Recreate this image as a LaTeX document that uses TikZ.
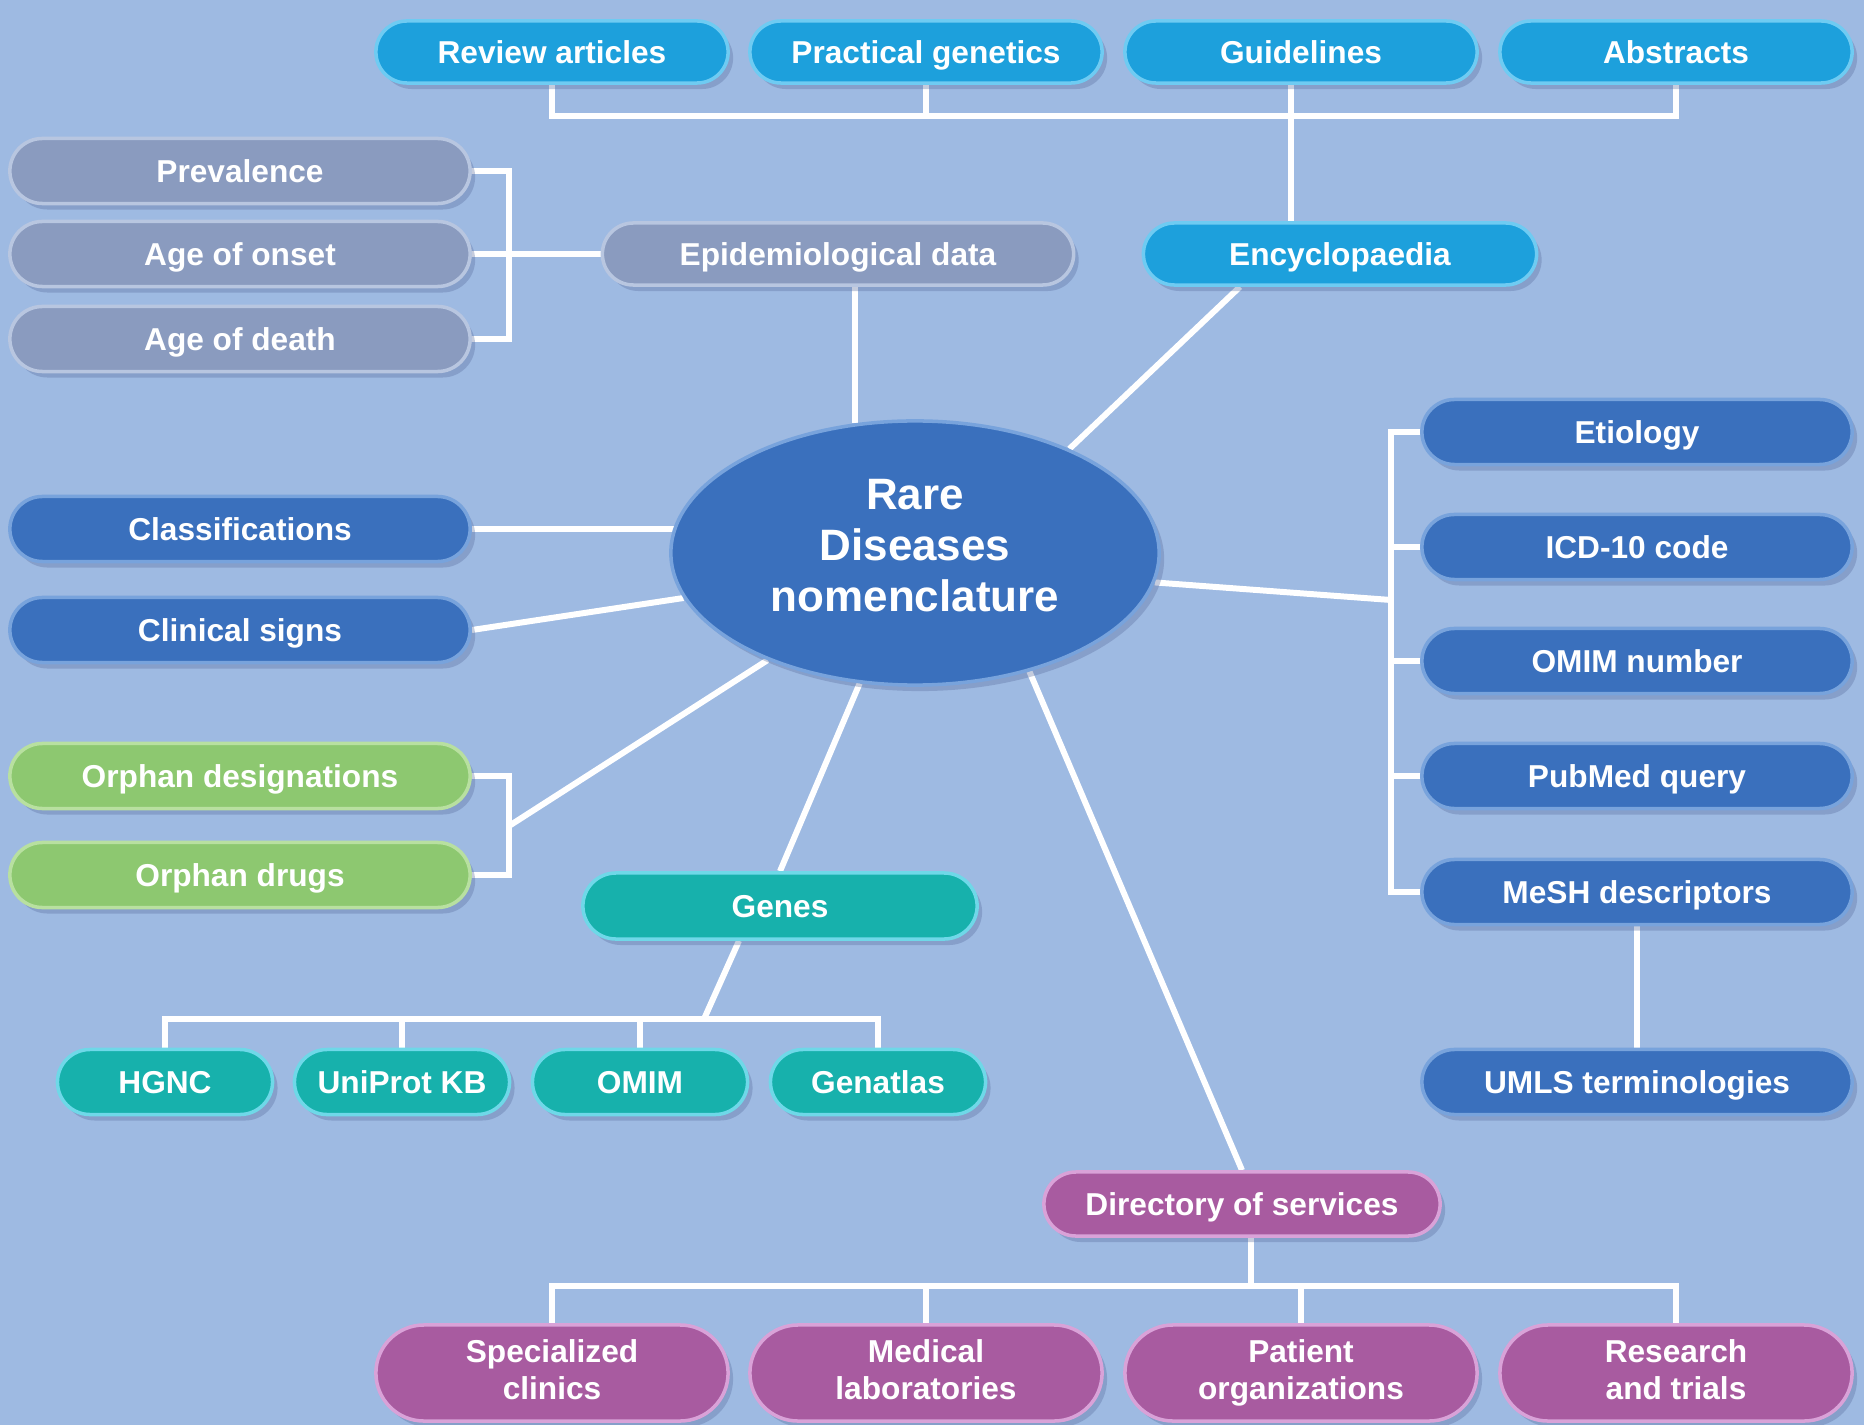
\documentclass[tikz,border=0pt]{standalone}
\usepackage{fontspec}
\setmainfont{Liberation Sans}
\usetikzlibrary{shapes.misc,shapes.geometric,shadows,calc}
\definecolor{bgc}{HTML}{9EBAE2}
\definecolor{cyanc}{HTML}{1DA0DC}
\definecolor{cyanl}{HTML}{6FCBF2}
\definecolor{grayc}{HTML}{8A9BBF}
\definecolor{grayl}{HTML}{B8C6E0}
\definecolor{bluec}{HTML}{3A70BD}
\definecolor{bluel}{HTML}{78A3DC}
\definecolor{greenc}{HTML}{8DC870}
\definecolor{greenl}{HTML}{B8E0A0}
\definecolor{tealc}{HTML}{17B1AC}
\definecolor{teall}{HTML}{6FD8E8}
\definecolor{magc}{HTML}{A85BA0}
\definecolor{magl}{HTML}{D9A2D8}
\definecolor{shadowc}{HTML}{5A6FA0}
\newcommand\mystrut{\rule[-2.2pt]{0pt}{10.8pt}}
\pgfdeclarelayer{bgl}
\pgfdeclarelayer{lines}
\pgfsetlayers{bgl,lines,main}
\tikzset{
  conn/.style={draw=white, line width=1.7pt},
  pill/.style={rounded rectangle, inner sep=0pt, text=white,
    font=\fontsize{9}{10.5}\selectfont\bfseries, align=center, line width=1pt,
    execute at begin node=\mystrut, execute at end node=\mystrut,
    drop shadow={shadow xshift=0.05cm, shadow yshift=-0.06cm, opacity=0.35, fill=shadowc}},
  cyanbox/.style={pill, fill=cyanc, draw=cyanl},
  graybox/.style={pill, fill=grayc, draw=grayl},
  bluebox/.style={pill, fill=bluec, draw=bluel},
  greenbox/.style={pill, fill=greenc, draw=greenl},
  tealbox/.style={pill, fill=tealc, draw=teall},
  magbox/.style={pill, fill=magc, draw=magl},
  toprow/.style={minimum width=3.52cm, minimum height=0.62cm},
  botrow/.style={minimum width=3.52cm, minimum height=0.96cm},
  leftcol/.style={minimum width=4.6cm, minimum height=0.65cm},
  rightcol/.style={minimum width=4.3cm, minimum height=0.65cm},
  generow/.style={minimum width=2.15cm, minimum height=0.65cm},
}
\begin{document}
\begin{tikzpicture}[x=0.01cm, y=-0.01cm]
\begin{pgfonlayer}{bgl}
\fill[bgc] (0,0) rectangle (1864,1425);
\end{pgfonlayer}
\useasboundingbox (0,0) rectangle (1864,1425);

% top row
\node[cyanbox, toprow] (rev) at (552,52) {Review articles};
\node[cyanbox, toprow] (prac) at (926,52) {Practical genetics};
\node[cyanbox, toprow] (guid) at (1301,52) {Guidelines};
\node[cyanbox, toprow] (abs) at (1676,52) {Abstracts};
\node[cyanbox, minimum width=3.93cm, minimum height=0.62cm] (enc) at (1340,254) {Encyclopaedia};

% epidemiology
\node[graybox, minimum width=4.71cm, minimum height=0.62cm] (epi) at (838,254) {Epidemiological data};
\node[graybox, leftcol] (prev) at (240,171) {Prevalence};
\node[graybox, leftcol] (onset) at (240,254) {Age of onset};
\node[graybox, leftcol] (death) at (240,339) {Age of death};

% centre
\node[ellipse, minimum width=4.88cm, minimum height=2.64cm, inner sep=0pt,
  fill=bluec, draw=bluel, line width=1pt, text=white, align=center,
  font=\fontsize{12.5}{14.5}\selectfont\bfseries,
  execute at end node=\strut,
  drop shadow={shadow xshift=0.05cm, shadow yshift=-0.06cm, opacity=0.35, fill=shadowc}]
  (rare) at (915,553) {Rare\\Diseases\\nomenclature};

% left
\node[bluebox, leftcol] (cls) at (240,529) {Classifications};
\node[bluebox, leftcol] (cs) at (240,630) {Clinical signs};
\node[greenbox, leftcol] (od) at (240,776) {Orphan designations};
\node[greenbox, leftcol] (odr) at (240,875) {Orphan drugs};

% genes
\node[tealbox, minimum width=3.94cm, minimum height=0.66cm] (genes) at (780,906) {Genes};
\node[tealbox, generow] (hgnc) at (165,1082) {HGNC};
\node[tealbox, generow] (uni) at (402,1082) {UniProt KB};
\node[tealbox, generow] (omim) at (640,1082) {OMIM};
\node[tealbox, generow] (gat) at (878,1082) {Genatlas};

% right
\node[bluebox, rightcol] (eti) at (1637,432) {Etiology};
\node[bluebox, rightcol] (icd) at (1637,547) {ICD-10 code};
\node[bluebox, rightcol] (omimn) at (1637,661) {OMIM number};
\node[bluebox, rightcol] (pub) at (1637,776) {PubMed query};
\node[bluebox, rightcol] (mesh) at (1637,892) {MeSH descriptors};
\node[bluebox, rightcol] (umls) at (1637,1082) {UMLS terminologies};

% services
\node[magbox, minimum width=3.96cm, minimum height=0.64cm] (dir) at (1242,1204) {Directory of services};
\node[magbox, botrow] (spec) at (552,1373) {Specialized\\clinics};
\node[magbox, botrow] (med) at (926,1373) {Medical\\laboratories};
\node[magbox, botrow] (pat) at (1301,1373) {Patient\\organizations};
\node[magbox, botrow] (res) at (1676,1373) {Research\\and trials};

% junctions
\coordinate (tj) at (1291,116);
\coordinate (gj) at (509,254);
\coordinate (oj) at (509,826);
\coordinate (gb) at (704,1019);
\coordinate (rj) at (1391,600);
\coordinate (db) at (1251,1286);
\coordinate (encb) at ($(enc.south)+(-100,0)$);
\coordinate (genb) at ($(genes.south)+(-41,0)$);

\begin{pgfonlayer}{lines}
\draw[conn] (rev.south) |- (tj) -| (abs.south);
\draw[conn] (prac.south) -- (prac.south |- tj);
\draw[conn] (tj |- guid.south) -- (tj |- enc.north);
\draw[conn] (encb) -- (rare.34);
\draw[conn] (prev.east) -| (gj) |- (death.east);
\draw[conn] (onset.east) -- (epi.west);
\draw[conn] (epi.south -| rare.115) -- (rare.115);
\draw[conn] (cls.east) -- (cls.east -| rare);
\draw[conn] (cs.east) -- (rare.191);
\draw[conn] (od.east) -| (oj) |- (odr.east);
\draw[conn] (oj) -- (rare.216);
\draw[conn] (rare.247) -- (genes.north);
\draw[conn] (genb) -- (gb);
\draw[conn] (hgnc.north) |- (gb) -| (gat.north);
\draw[conn] (uni.north) -- (uni.north |- gb);
\draw[conn] (omim.north) -- (omim.north |- gb);
\draw[conn] (rare.353) -- (rj);
\draw[conn] (eti.west) -| (rj) |- (mesh.west);
\draw[conn] (icd.west) -- (icd.west -| rj);
\draw[conn] (omimn.west) -- (omimn.west -| rj);
\draw[conn] (pub.west) -- (pub.west -| rj);
\draw[conn] (mesh.south) -- (umls.north);
\draw[conn] (rare.314) -- (dir.north);
\draw[conn] (dir.south -| db) -- (db);
\draw[conn] (spec.north) |- (db) -| (res.north);
\draw[conn] (med.north) -- (med.north |- db);
\draw[conn] (pat.north) -- (pat.north |- db);
\end{pgfonlayer}
\end{tikzpicture}
\end{document}
